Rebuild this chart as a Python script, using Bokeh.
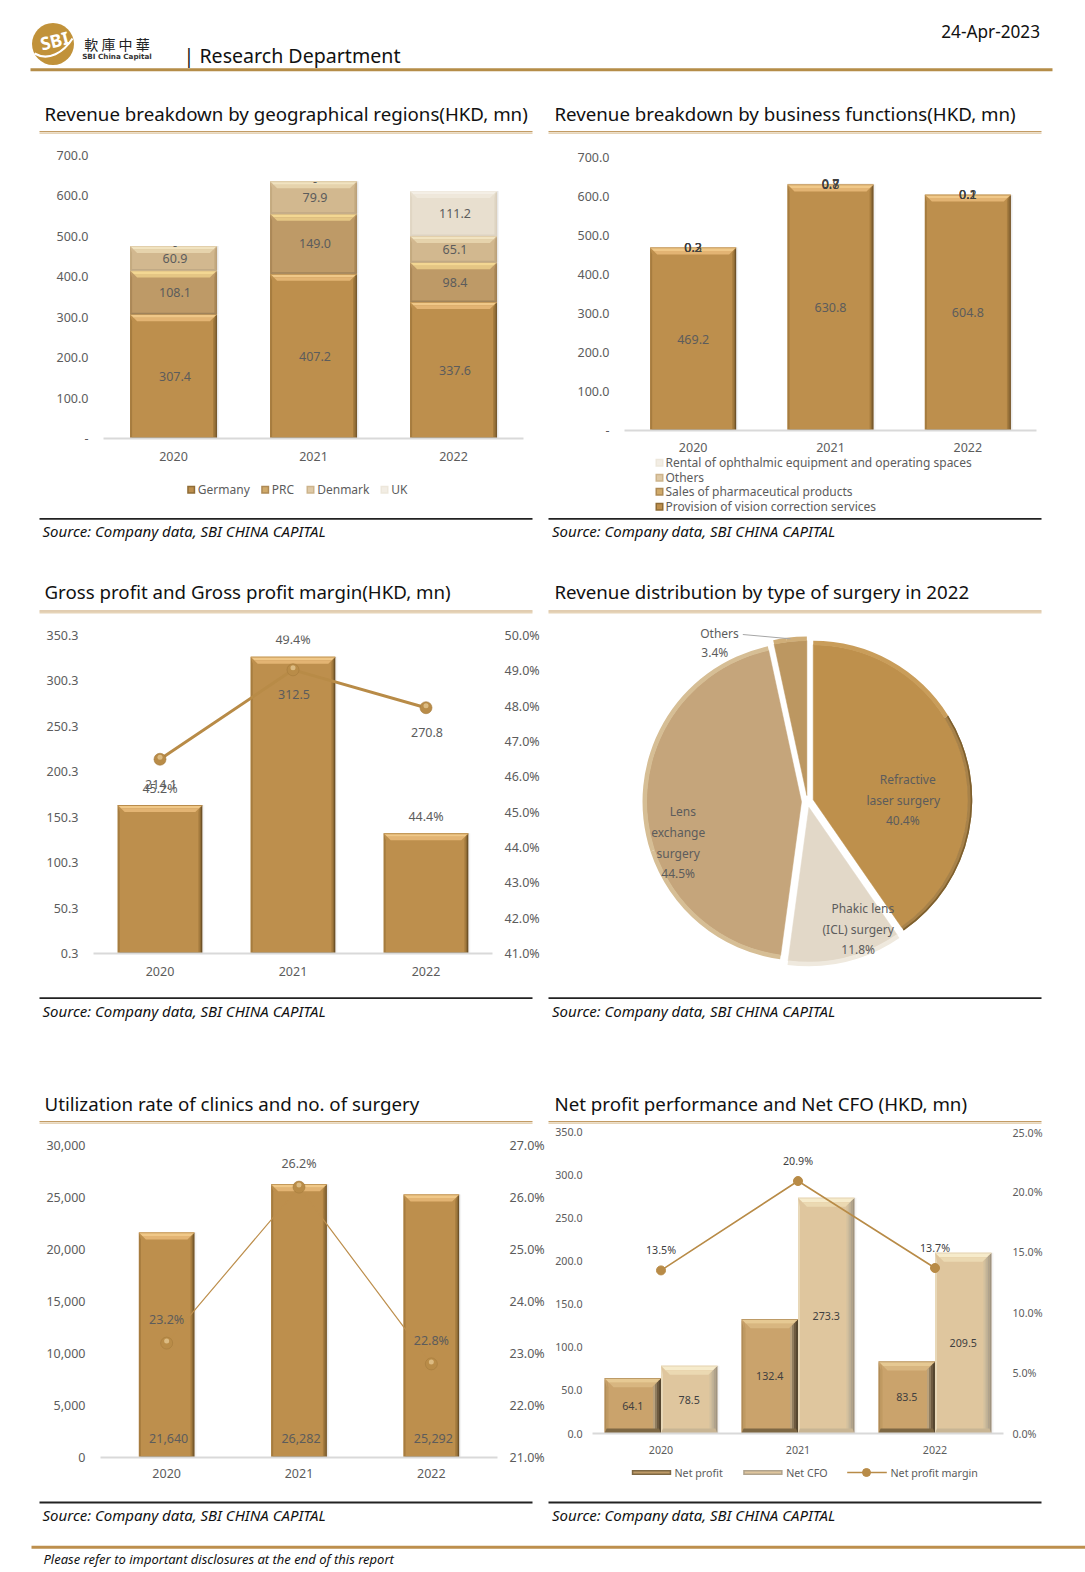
import math
from bokeh.plotting import figure
from bokeh.layouts import column, row
from bokeh.models import Range1d, FixedTicker, LinearAxis, PrintfTickFormatter
from bokeh.core.properties import value
from bokeh.embed import file_html
from bokeh.resources import INLINE

# ---------- data ----------
years = ["2020", "2021", "2022"]

geo_names = ["Germany", "PRC", "Denmark", "UK"]
geo_germany = [307.4, 407.2, 337.6]
geo_prc = [108.1, 149.0, 98.4]
geo_denmark = [60.9, 79.9, 65.1]
geo_uk = [0.0, 0.0, 111.2]
geo_ticks = [0, 100, 200, 300, 400, 500, 600, 700]

biz_names = ["Rental of ophthalmic equipment and operating spaces", "Others",
             "Sales of pharmaceutical products", "Provision of vision correction services"]
biz_vision = [469.2, 630.8, 604.8]
biz_sales = [0.2, 0.7, 0.1]
biz_others = [0.3, 0.8, 0.2]
biz_rental = [0.2, 0.7, 0.1]
biz_ticks = [0, 100, 200, 300, 400, 500, 600, 700]

gross_profit = [214.1, 312.5, 270.8]
gross_margin = [45.2, 49.4, 44.4]
gp_ticks = [0.3, 50.3, 100.3, 150.3, 200.3, 250.3, 300.3, 350.3]
gm_ticks = [41, 42, 43, 44, 45, 46, 47, 48, 49, 50]

pie_names = [["Refractive", "laser surgery"], ["Phakic lens", "(ICL) surgery"],
             ["Lens", "exchange", "surgery"], ["Others"]]
pie_values = [40.4, 11.8, 44.5, 3.4]

surgeries = [21640, 26282, 25292]
utilization = [23.2, 26.2, 22.8]
surg_ticks = [0, 5000, 10000, 15000, 20000, 25000, 30000]
util_ticks = [21, 22, 23, 24, 25, 26, 27]

net_profit = [64.1, 132.4, 83.5]
net_cfo = [78.5, 273.3, 209.5]
net_margin = [13.5, 20.9, 13.7]
np_ticks = [0, 50, 100, 150, 200, 250, 300, 350]
nm_ticks = [0, 5, 10, 15, 20, 25]

titles = ["Revenue breakdown by geographical regions(HKD, mn)", "Revenue breakdown by business functions(HKD, mn)",
          "Gross profit and Gross profit margin(HKD, mn)", "Revenue distribution by type of surgery in 2022",
          "Utilization rate of clinics and no. of surgery", "Net profit performance and Net CFO (HKD, mn)"]
source_text = "Source: Company data, SBI CHINA CAPITAL"

# ---------- style ----------
FONT = "Noto Sans"
GREY = "#5c5c5c"
DARK = "#404040"
LINEC = "#B88B47"
GOLD = dict(main="#BD8F4D", top=["#F0C888", "#E3B473"], edge="#B98C4C", left=["#A67C3F"],
            right=["#A67C3F", "#8F6C36", "#6F5228"], bottom="#8F6C36")
PRC = dict(main="#BE9A67", top=["#F3D792", "#E5C684"], edge="#C5A878", left=["#AB8858"],
           right=["#AB8858", "#9A7A4E"], bottom="#A0835A")
DEN = dict(main="#D2B88F", top=["#F1E3C0", "#E6D3AC"], edge="#DCC8A4", left=["#C4AA80"],
           right=["#C4AA80", "#B89E76"], bottom="#C0A985")
UKC = dict(main="#E8DFCF", top=["#F4EFE6", "#EFE8DB"], edge="#EFE9DE", left=["#E0D6C4"],
           right=["#E0D6C4", "#D8CDBA"], bottom="#DDD3C2")
NP = dict(main="#CAA36C", top=["#E6C993", "#D8B680"], edge="#B08C58", left=["#B08C58", "#C09A62"],
          right=["#BBA27C", "#8F7C5E", "#6D5A40", "#55462F"], bottom="#7E6844")
CFO = dict(main="#DFC69E", top=["#F6EBCB", "#EBD9B2"], edge="#E2D2B2", left=["#E8D8B8"],
           right=["#D3C09E", "#C2B498", "#B0A38D", "#A09480"], bottom="#C8B594")


def style_axis(a, size="12.5px", color=GREY, standoff=15, line=None):
    a.major_label_text_font = FONT
    a.major_label_text_font_size = size
    a.major_label_text_color = color
    a.major_label_standoff = standoff
    a.axis_line_color = line
    a.major_tick_line_color = None
    a.minor_tick_line_color = None
    a.major_tick_out = 0
    a.major_tick_in = 0
    a.minor_tick_out = 0
    a.minor_tick_in = 0


def chart(w, h, l, r, t, b, y0, y1, ticks, fmt, size="12.5px", color=GREY, ls=15, bs=13, overrides=None):
    p = figure(width=w, height=h, min_border_left=l, min_border_right=r, min_border_top=t, min_border_bottom=b,
               x_range=Range1d(-0.5, 2.5), y_range=Range1d(y0, y1), tools="",
               toolbar_location=None, output_backend="svg")
    p.frame_align = False
    p.grid.visible = False
    p.outline_line_color = None
    xa = p.xaxis[0]
    style_axis(xa, size, color, bs, "#D9D9D9")
    xa.axis_line_width = 2
    xa.ticker = FixedTicker(ticks=[0, 1, 2])
    xa.major_label_overrides = {i: y for i, y in enumerate(years)}
    ya = p.yaxis[0]
    style_axis(ya, size, color, ls)
    ya.ticker = FixedTicker(ticks=ticks)
    ya.formatter = PrintfTickFormatter(format=fmt)
    if overrides:
        ya.major_label_overrides = overrides
    geom = dict(px=(w - l - r) / 3.0, py=(h - t - b) / float(y1 - y0))
    return p, geom


def right_axis(p, name, rng, ticks, size="12.5px", color=GREY, standoff=12):
    p.extra_y_ranges = {name: Range1d(*rng)}
    a = LinearAxis(y_range_name=name)
    style_axis(a, size, color, standoff)
    a.ticker = FixedTicker(ticks=ticks)
    a.formatter = PrintfTickFormatter(format="%.1f%%")
    p.add_layout(a, "right")


def poly(p, xs, ys, color, rn):
    p.patches([xs], [ys], fill_color=color, line_color=None, y_range_name=rn)


def bars(p, xs, w, y0s, y1s, st, g, rn="default", bevel=7.0, shadow=True):
    """Bevelled column: a flat quad from the scale, with strips round it for the Excel-like bevel."""
    main = p.quad(left=[x - w / 2 for x in xs], right=[x + w / 2 for x in xs], bottom=y0s, top=y1s,
                  fill_color=st["main"], line_color=None, y_range_name=rn)
    ux = 1.0 / g["px"]
    uy = 1.0 / g["py"]
    for x, a, b in zip(xs, y0s, y1s):
        if (b - a) * g["py"] < 2 * bevel:
            continue
        L, R = x - w / 2, x + w / 2
        if shadow:
            for i, c in enumerate(["#E4E4E4", "#F3F3F3"]):
                p.quad(left=[R + i * ux], right=[R + (i + 1) * ux], bottom=[a], top=[b], fill_color=c,
                       line_color=None, y_range_name=rn)
        nr = len(st["right"])
        for i, c in enumerate(st["right"]):
            d = (1.3 if bevel < 8 else 2.0) * ux
            xr0 = R - (nr - i) * d
            xr1 = xr0 + d
            poly(p, [xr0, xr1, xr1, xr0], [a, a, b, b - bevel * uy * (nr - i) / nr], c, rn)
        for i, c in enumerate(st["left"]):
            xl0 = L + i * 2 * ux
            poly(p, [xl0, xl0 + 2 * ux, xl0 + 2 * ux, xl0], [a, a, b - bevel * uy, b], c, rn)
        bh = 1.5 if bevel < 8 else 5.0
        poly(p, [L, R, R - 2 * ux, L + 2 * ux], [a, a, a + bh * uy, a + bh * uy], st["bottom"], rn)
        n = len(st["top"])
        for i, c in enumerate(st["top"]):
            h0 = bevel * i / n
            h1 = bevel * (i + 1) / n
            poly(p, [L + h0 * ux, R - h0 * ux, R - h1 * ux, L + h1 * ux],
                 [b - h0 * uy, b - h0 * uy, b - h1 * uy, b - h1 * uy], c, rn)
        p.quad(left=[L], right=[R], bottom=[b - 0.8 * uy], top=[b], fill_color=st["edge"], line_color=None,
               y_range_name=rn)
    return main


def labels(p, xs, ys, texts, rn="default", xoff=0, yoff=0, size="12.5px", color=GREY):
    p.text(x=xs, y=ys, text=texts, x_offset=xoff, y_offset=yoff, text_align="center", text_baseline="middle",
           text_font=value(FONT), text_font_size=size, text_color=color, y_range_name=rn)


def balls(p, xs, ys, g, rn, size=11):
    p.scatter(x=xs, y=ys, size=size, marker="circle", fill_color="#B98C48", line_color="#A57B3D", line_width=0.6,
              y_range_name=rn)
    p.scatter(x=xs, y=[v + 2.0 / g for v in ys], size=size * 0.42, marker="circle", fill_color="#DCBB82",
              line_color=None, y_range_name=rn)


def band(y0, y1, w=1085, x0=0):
    p = figure(width=w, height=y1 - y0, min_border=0, x_range=Range1d(x0, x0 + w), y_range=Range1d(y1, y0),
               x_axis_type=None, y_axis_type=None, tools="", toolbar_location=None, output_backend="svg")
    p.frame_align = False
    p.grid.visible = False
    p.outline_line_color = None
    return p


def t(p, x, y, s, size, color="#111111", align="left", style="normal", font=FONT, angle=0):
    p.text(x=[x], y=[y], text=[s], text_align=align, text_baseline="middle", text_font=value(font),
           text_font_size=size, text_color=color, text_font_style=style, angle=angle)


def title_block(p, y_title, y_rule, i, j):
    for x, s, a, b in ((44, titles[i], 39, 532), (554, titles[j], 548, 1041)):
        t(p, x, y_title, s, "18.7px", "#111111")
        p.line([a, b], [y_rule - 1, y_rule - 1], line_color="#C39C65", line_width=1.2)
        p.line([a, b], [y_rule + 0.6, y_rule + 0.6], line_color="#E6D4B8", line_width=1.6)


def source_block(p, y_rule):
    for a, b, x in ((39, 532, 42), (548, 1041, 551.5)):
        p.line([a, b], [y_rule, y_rule], line_color="#222222", line_width=1.8)
        t(p, x, y_rule + 12.5, source_text, "15px", "#111111", style="italic")


def swatch(p, x, y, w, h, c, c2):
    p.quad(left=[x], right=[x + w], top=[y - h / 2], bottom=[y + h / 2], fill_color=c, line_color=None)
    p.quad(left=[x + 1.5], right=[x + w - 1.5], top=[y - h / 2 + 1.5], bottom=[y + h / 2 - 1.5], fill_color=c2,
           line_color=None)


# ---------- header band ----------
bA = band(0, 136)
bA.circle(x=[52.5], y=[43.5], radius=21, fill_color="#C1923A", line_color=None)
bA.bezier(x0=[34], y0=[53], x1=[72], y1=[38], cx0=[48], cy0=[61], cx1=[63], cy1=[52], line_color="white", line_width=2.2)
t(bA, 54, 40, "SBI", "18px", "white", "center", "bold", angle=0.25)
t(bA, 116.5, 43, "軟 庫 中 華", "14px", "#222222", "center", font="Noto Sans CJK TC")
t(bA, 116.5, 55.5, "SBI China Capital", "7.2px", "#333333", "center", "bold", font="DejaVu Sans")
t(bA, 183, 55, "| Research Department", "19.6px", "#111111")
t(bA, 1039.5, 30.5, "24-Apr-2023", "17.2px", "#111111", "right")
bA.line([30, 1052], [69.3, 69.3], line_color="#B58D48", line_width=3)
title_block(bA, 113, 132, 0, 1)

# ---------- chart 1 : revenue by region ----------
X = [0, 1, 2]
p1, g1 = chart(548, 329, 103, 25, 19, 27, 0, 700, geo_ticks, "%.1f", overrides={0: "-"})
bw = 0.62
s0 = [0, 0, 0]
s1 = geo_germany
s2 = [a + b for a, b in zip(s1, geo_prc)]
s3 = [a + b for a, b in zip(s2, geo_denmark)]
s4 = [a + b for a, b in zip(s3, geo_uk)]
bars(p1, X, bw, s0, s1, GOLD, g1)
bars(p1, X, bw, s1, s2, PRC, g1)
bars(p1, X, bw, s2, s3, DEN, g1)
bars(p1, X, bw, s3, s4, UKC, g1)
for lo, hi, vals in ((s0, s1, geo_germany), (s1, s2, geo_prc), (s2, s3, geo_denmark), (s3, s4, geo_uk)):
    labels(p1, X, [(a + b) / 2 for a, b in zip(lo, hi)], ["-" if v == 0 else "%.1f" % v for v in vals], xoff=1.5)
lg1 = band(465, 515, 548, 0)
for name, sx, tx, c, c2 in zip(geo_names, (186.7, 260.7, 306, 380), (197.3, 271.3, 316.7, 390.7),
                               ("#8F6C36", "#AE8A55", "#CDB48C", "#EDE7DB"),
                               ("#BD8F4D", "#D0AA6A", "#DEC9A6", "#F2EDE4")):
    swatch(lg1, sx, 489.3, 8, 8, c, c2)
    t(lg1, tx, 489.3, name, "12px", GREY)

# ---------- chart 2 : revenue by business ----------
p2, g2 = chart(537, 318, 76, 49, 21, 23, 0, 700, biz_ticks, "%.1f", bs=12, overrides={0: "-"})
bw = 0.626
z = [0, 0, 0]
v1 = biz_vision
v2 = [a + b for a, b in zip(v1, biz_sales)]
v3 = [a + b for a, b in zip(v2, biz_others)]
v4 = [a + b for a, b in zip(v3, biz_rental)]
bars(p2, X, bw, z, v1, GOLD, g2)
bars(p2, X, bw, v1, v2, PRC, g2)
bars(p2, X, bw, v2, v3, DEN, g2)
bars(p2, X, bw, v3, v4, UKC, g2)
labels(p2, X, [v / 2 for v in v1], ["%.1f" % v for v in v1])
for lo, hi, vals in ((v1, v2, biz_sales), (v2, v3, biz_others), (v3, v4, biz_rental)):
    labels(p2, X, [(a + b) / 2 for a, b in zip(lo, hi)], ["%.1f" % v for v in vals], color=DARK)
lg2 = band(454, 515, 537, 548)
for name, y, c, c2 in zip(biz_names, (462.2, 477.2, 491.2, 506.2), ("#EDE7DB", "#CDB48C", "#AE8A55", "#8F6C36"),
                          ("#F2EDE4", "#DEC9A6", "#D0AA6A", "#BD8F4D")):
    swatch(lg2, 655, y, 8, 8, c, c2)
    t(lg2, 665, y, name, "12px", GREY)

# ---------- band between rows 1 and 2 ----------
bC = band(515, 615)
source_block(bC, 518.3)
title_block(bC, 591, 611.5, 2, 3)

# ---------- chart 3 : gross profit ----------
p3, g3 = chart(548, 377, 93, 56, 20, 39, 0.3, 350.3, gp_ticks, "%.1f")
right_axis(p3, "pct", (41, 50), gm_ticks)
g3p = dict(px=g3["px"], py=318 / 9.0)
bars(p3, X, 0.636, [41, 41, 41], gross_margin, GOLD, g3p, rn="pct")
p3.line(X, gross_profit, line_color=LINEC, line_width=3)
balls(p3, X, gross_profit, g3["py"], "default", 12)
labels(p3, X, gross_margin, ["%.1f%%" % v for v in gross_margin], rn="pct", yoff=-17)
labels(p3, X, gross_profit, ["%.1f" % v for v in gross_profit], yoff=25, xoff=1)

# ---------- chart 4 : pie ----------
p4 = figure(width=537, height=377, min_border=0, x_range=Range1d(548, 1085), y_range=Range1d(-992, -615),
            x_axis_type=None, y_axis_type=None, tools="", toolbar_location=None, output_backend="svg")
p4.frame_align = False
p4.grid.visible = False
p4.outline_line_color = None
PCX, PCY, PR, PEX = 807.0, -801.0, 159.0, 6.0
pie_main = ["#BE904C", "#E2D8C8", "#C5A57B", "#BC9761"]
pie_rim = [["#C99D5A", "#A88249"], ["#EFE9DE", "#EFE9DE"], ["#D6BE95", "#D6BE95"], ["#D0AE78", "#D0AE78"]]
total = float(sum(pie_values))
cum = 0.0
for i, v in enumerate(pie_values):
    a0 = cum / total * 2 * math.pi
    cum += v
    a1 = cum / total * 2 * math.pi
    mid = (a0 + a1) / 2
    cx = PCX + PEX * math.sin(mid)
    cy = PCY + PEX * math.cos(mid)
    p4.wedge(x=[cx], y=[cy], radius=PR - 4, start_angle=math.pi / 2 - a1, end_angle=math.pi / 2 - a0,
             fill_color=pie_main[i], line_color=pie_main[i], line_width=0.5)
    split = a0 + (a1 - a0) * 0.4
    p4.annular_wedge(x=[cx], y=[cy], inner_radius=PR - 4.5, outer_radius=PR, start_angle=math.pi / 2 - split,
                     end_angle=math.pi / 2 - a0, fill_color=pie_rim[i][0], line_color=None)
    p4.annular_wedge(x=[cx], y=[cy], inner_radius=PR - 4.5, outer_radius=PR, start_angle=math.pi / 2 - a1,
                     end_angle=math.pi / 2 - split, fill_color=pie_rim[i][1], line_color=None)
    if i == 0:
        p4.annular_wedge(x=[cx], y=[cy], inner_radius=PR - 1.6, outer_radius=PR, start_angle=math.pi / 2 - a1,
                         end_angle=math.pi / 2 - split, fill_color="#7D5F2E", line_color=None)
p4.line([742.3, 790], [-634, -638.3], line_color="#A6A6A6", line_width=1)


def pt(x, y, s):
    p4.text(x=[x], y=[-y], text=[s], text_align="center", text_baseline="middle", text_font=value(FONT),
            text_font_size="12px", text_color=GREY)


pie_label_pos = [[(907.3, 779.3), (902.7, 800)], [(862.3, 908.3), (857.7, 929)],
                 [(682.3, 811), (677.7, 832), (677.7, 853.3)], [(719, 632.7)]]
pie_pct_pos = [(902.3, 820), (857.7, 949.3), (677.7, 872.7), (714.3, 652.3)]
for names, poss, pct, v in zip(pie_names, pie_label_pos, pie_pct_pos, pie_values):
    for n, (x, y) in zip(names, poss):
        pt(x, y, n)
    pt(pct[0], pct[1], "%.1f%%" % v)

# ---------- band between rows 2 and 3 ----------
bE = band(992, 1125)
source_block(bE, 997.7)
title_block(bE, 1102.5, 1122, 4, 5)

# ---------- chart 5 : utilisation ----------
p5, g5 = chart(548, 372, 100, 51, 20, 40, 0, 30000, surg_ticks, "%d", bs=11)
p5.yaxis[0].major_label_overrides = {v: f"{v:,}" for v in surg_ticks}
right_axis(p5, "pct", (21, 27), util_ticks)
bars(p5, X, 0.42, [0, 0, 0], surgeries, GOLD, g5)
p5.line(X, utilization, line_color=GOLD["main"], line_width=1.2, y_range_name="pct")
balls(p5, X, utilization, 312 / 6.0, "pct", 12)
labels(p5, X, [0, 0, 0], [f"{v:,}" for v in surgeries], xoff=2, yoff=-19.5)
labels(p5, X, utilization, ["%.1f%%" % v for v in utilization], rn="pct", yoff=-23.5)

# ---------- chart 6 : net profit ----------
S6 = "10.7px"
p6, g6 = chart(537, 333, 44, 82, 6, 25, 0, 350, np_ticks, "%.1f", size=S6, ls=10, bs=12)
right_axis(p6, "pct", (0, 25), nm_ticks, size=S6, standoff=9)
w6 = 0.412
x_np = [i - w6 / 2 for i in X]
x_cf = [i + w6 / 2 for i in X]
bars(p6, x_np, w6, [0, 0, 0], net_profit, NP, g6, bevel=9.0, shadow=False)
bars(p6, x_cf, w6, [0, 0, 0], net_cfo, CFO, g6, bevel=9.0)
p6.line(X, net_margin, line_color=LINEC, line_width=1.6, y_range_name="pct")
p6.scatter(X, net_margin, size=9, marker="circle", fill_color=LINEC, line_color=LINEC, y_range_name="pct")
labels(p6, x_np, [v / 2 for v in net_profit], ["%.1f" % v for v in net_profit], size=S6, color=DARK)
labels(p6, x_cf, [v / 2 for v in net_cfo], ["%.1f" % v for v in net_cfo], size=S6, color=DARK)
labels(p6, X, net_margin, ["%.1f%%" % v for v in net_margin], rn="pct", yoff=-20, size=S6, color=DARK)
lg6 = band(1458, 1497, 537, 548)
swatch(lg6, 631.3, 1472, 39.4, 5, "#7E6844", "#BE9A67")
t(lg6, 674, 1472, "Net profit", S6, GREY)
swatch(lg6, 742.7, 1472, 39.4, 5, "#B0A38D", "#DFC69E")
t(lg6, 785.7, 1472, "Net CFO", S6, GREY)
lg6.line([846.7, 886.3], [1472, 1472], line_color=LINEC, line_width=1.6)
lg6.scatter([866], [1472], size=8, marker="circle", fill_color=LINEC, line_color=LINEC)
t(lg6, 890, 1472, "Net profit margin", S6, GREY)

# ---------- footer band ----------
bG = band(1497, 1572)
source_block(bG, 1502)
bG.line([31, 1085], [1546.7, 1546.7], line_color="#BD8F4D", line_width=3)
t(bG, 43, 1558.5, "Please refer to important disclosures at the end of this report", "13px", "#111111", style="italic")

page = column(bA,
              row(column(p1, lg1, spacing=0), column(p2, lg2, spacing=0), spacing=0),
              bC,
              row(p3, p4, spacing=0),
              bE,
              row(p5, column(p6, lg6, spacing=0), spacing=0),
              bG, spacing=0)
open("out.html", "w").write(file_html(page, INLINE))
